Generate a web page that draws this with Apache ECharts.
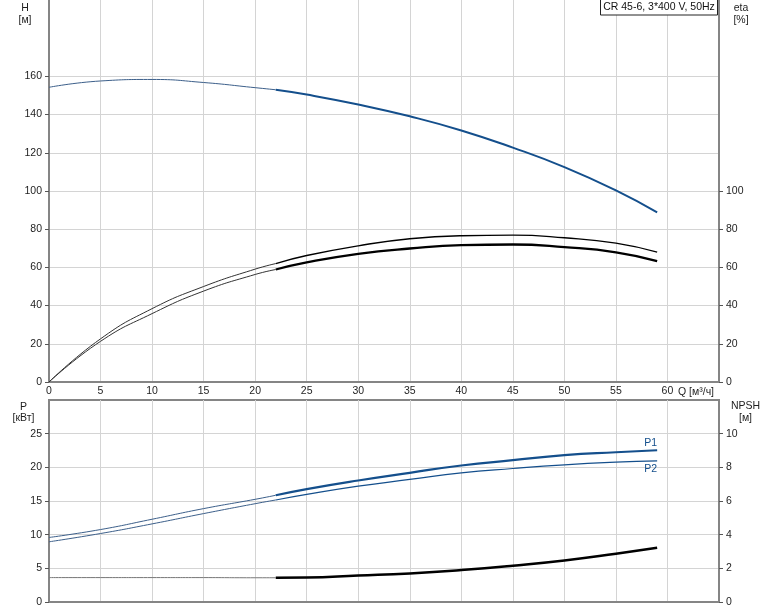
<!DOCTYPE html>
<html>
<head>
<meta charset="utf-8">
<script src="https://cdn.jsdelivr.net/npm/echarts@6/dist/echarts.min.js"></script>
<style>html,body{margin:0;padding:0;background:#fff}#c{width:774px;height:611px}</style>
</head>
<body>
<div id="c"></div>
<script>
// ---- data ----
const TITLE = 'CR 45-6, 3*400 V, 50Hz';
const Q     = [0, 5, 10, 15, 20, 22, 25, 30, 35, 40, 45, 50, 55, 59];
const H     = [154.3, 157.6, 158.4, 156.8, 154.1, 153.0, 150.5, 145.3, 139.1, 131.7, 122.7, 112.5, 100.3, 88.8];
const ETA1  = [0, 22.6, 38.4, 50.0, 59.1, 62.0, 66.2, 71.3, 75.0, 76.6, 76.9, 75.5, 72.7, 68.0];
const ETA2  = [0, 21.3, 35.8, 47.6, 56.3, 58.9, 62.6, 67.1, 69.9, 71.7, 72.0, 70.6, 67.9, 63.3];
const P1    = [9.58, 10.76, 12.29, 13.87, 15.25, 15.85, 16.77, 18.05, 19.19, 20.27, 21.06, 21.8, 22.24, 22.54];
const P2    = [8.94, 10.17, 11.6, 13.13, 14.6, 15.15, 15.98, 17.2, 18.2, 19.19, 19.83, 20.37, 20.76, 20.96];
const NPSH  = [1.45, 1.45, 1.45, 1.45, 1.44, 1.44, 1.45, 1.57, 1.70, 1.90, 2.16, 2.47, 2.87, 3.22];
const SPLIT_Q = 22;
const X_TICKS   = [0, 5, 10, 15, 20, 25, 30, 35, 40, 45, 50, 55, 60];
const H_TICKS   = [0, 20, 40, 60, 80, 100, 120, 140, 160];
const ETA_TICKS = [0, 20, 40, 60, 80, 100];
const P_TICKS   = [0, 5, 10, 15, 20, 25];
const NPSH_TICKS = [0, 2, 4, 6, 8, 10];

const FONT = 'Liberation Sans, Arial, sans-serif';
const FS = 10.5;
const TXT = '#1e1e1e';
const BLUE = '#144f8c';
const AXIS = '#858585';
const GRID = '#d4d4d4';

function pts(vals, from, to) {
  return Q.map((q, i) => [q, vals[i]]).filter(p => p[0] >= from && p[0] <= to);
}
function seg(name, vals, xi, yi, color, thinW, thickW, thinColor, extra) {
  const thin = {
    type: 'line', name: name + '_a', xAxisIndex: xi, yAxisIndex: yi,
    data: pts(vals, 0, SPLIT_Q), smooth: 0.5, symbol: 'none',
    lineStyle: { color: thinColor || color, width: thinW }, z: 3, silent: true
  };
  const thick = Object.assign({
    type: 'line', name: name + '_b', xAxisIndex: xi, yAxisIndex: yi,
    data: pts(vals, SPLIT_Q, 100), smooth: 0.5, symbol: 'none',
    lineStyle: { color: color, width: thickW }, z: 4, silent: true
  }, extra || {});
  return [thin, thick];
}

const axisLabelBase = { color: TXT, fontSize: FS, fontFamily: FONT };

const xAxisCommon = (gi, showLabels) => ({
  type: 'value', gridIndex: gi, min: 0, max: 65, interval: 5,
  axisLine: { show: true, onZero: false, lineStyle: { color: AXIS, width: 2 } },
  axisTick: { show: false },
  axisLabel: Object.assign({ show: showLabels, margin: 4, customValues: X_TICKS }, axisLabelBase),
  splitLine: { show: true, lineStyle: { color: GRID, width: 1 } }
});

const yAxisCommon = (gi, pos, max, interval, ticks, split) => ({
  type: 'value', gridIndex: gi, position: pos, min: 0, max: max, interval: interval,
  axisLine: { show: true, lineStyle: { color: AXIS, width: 2 } },
  axisTick: { show: true, length: 4, customValues: ticks, lineStyle: { color: '#555', width: 1 } },
  axisLabel: Object.assign({ margin: 7, customValues: ticks }, axisLabelBase),
  splitLine: { show: split, lineStyle: { color: GRID, width: 1 } }
});

const series = [].concat(
  seg('H', H, 0, 0, BLUE, 1, 2, '#3c5f8a'),
  seg('eta1', ETA1, 0, 1, '#000', 1, 1.4, '#333'),
  seg('eta2', ETA2, 0, 1, '#000', 1, 2.3, '#333'),
  seg('P1', P1, 1, 2, BLUE, 1, 2.2, '#3c5f8a', {
    endLabel: { show: true, formatter: 'P1', color: BLUE, fontSize: FS, fontFamily: FONT, offset: [-21, -7] }
  }),
  seg('P2', P2, 1, 2, BLUE, 1, 1.2, '#3c5f8a', {
    endLabel: { show: true, formatter: 'P2', color: BLUE, fontSize: FS, fontFamily: FONT, offset: [-21, 8] }
  }),
  seg('NPSH', NPSH, 1, 3, '#000', 1, 2.5, '#777')
);

const chart = echarts.init(document.getElementById('c'), null, { renderer: 'canvas' });
chart.setOption({
  animation: false,
  backgroundColor: '#fff',
  grid: [
    { left: 49, top: 0, width: 670, height: 382 },
    { left: 49, top: 400, width: 670, height: 202, show: true, borderColor: AXIS, borderWidth: 2, backgroundColor: 'transparent' }
  ],
  xAxis: [xAxisCommon(0, true), xAxisCommon(1, false)],
  yAxis: [
    yAxisCommon(0, 'left', 200, 20, H_TICKS, true),
    yAxisCommon(0, 'right', 200, 20, ETA_TICKS, false),
    yAxisCommon(1, 'left', 30, 5, P_TICKS, true),
    yAxisCommon(1, 'right', 12, 2, NPSH_TICKS, false)
  ],
  series: series,
  graphic: [
    { type: 'text', x: 25, y: 2, style: { text: 'H\n[м]', textAlign: 'center', textVerticalAlign: 'top', lineHeight: 12, fill: TXT, font: FS + 'px ' + FONT } },
    { type: 'text', x: 741, y: 2, style: { text: 'eta\n[%]', textAlign: 'center', textVerticalAlign: 'top', lineHeight: 12, fill: TXT, font: FS + 'px ' + FONT } },
    { type: 'text', x: 23.5, y: 401, style: { text: 'P\n[кВт]', textAlign: 'center', textVerticalAlign: 'top', lineHeight: 11.5, fill: TXT, font: FS + 'px ' + FONT } },
    { type: 'text', x: 745.5, y: 400.5, style: { text: 'NPSH\n[м]', textAlign: 'center', textVerticalAlign: 'top', lineHeight: 11.5, fill: TXT, font: FS + 'px ' + FONT } },
    { type: 'text', x: 678, y: 392, style: { text: 'Q [м³/ч]', textAlign: 'left', textVerticalAlign: 'middle', fill: TXT, font: FS + 'px ' + FONT } },
    { type: 'rect', x: 600.5, y: -0.5, shape: { width: 117, height: 15.5 }, style: { fill: '#fff', stroke: '#222', lineWidth: 1 }, z: 100 },
    { type: 'text', x: 659, y: 7.5, z: 101, style: { text: TITLE, textAlign: 'center', textVerticalAlign: 'middle', fill: '#111', font: FS + 'px ' + FONT } }
  ]
});
</script>
</body>
</html>
